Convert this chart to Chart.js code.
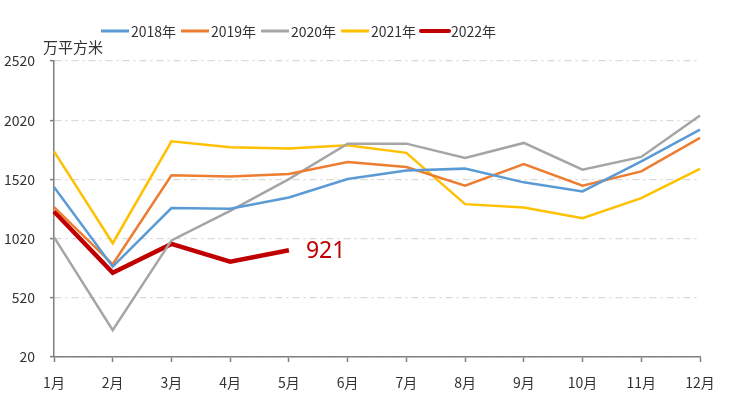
<!DOCTYPE html>
<html>
<head>
<meta charset="utf-8">
<script src="https://cdn.jsdelivr.net/npm/chart.js@4"></script>
<style>
  html, body { margin: 0; padding: 0; background: #fff; }
  #wrap { width: 732px; height: 398px; }
</style>
</head>
<body>
<div id="wrap"><canvas id="chart"></canvas></div>
<script>
// chart data
const months = ['1月', '2月', '3月', '4月', '5月', '6月', '7月', '8月', '9月', '10月', '11月', '12月'];
const s2018 = [1456, 783, 1278, 1272, 1367, 1523, 1596, 1611, 1495, 1418, 1673, 1941];
const s2019 = [1286, 803, 1554, 1545, 1566, 1667, 1625, 1467, 1650, 1467, 1588, 1871];
const s2020 = [1032, 246, 1005, 1255, 1523, 1822, 1822, 1701, 1828, 1602, 1710, 2060];
const s2021 = [1757, 981, 1842, 1791, 1780, 1808, 1744, 1311, 1283, 1193, 1362, 1608];
const s2022 = [1249, 732, 975, 825, 921];
const yTicks = [20, 520, 1020, 1520, 2020, 2520];
const unitLabel = '万平方米';
const lastLabel = '921';

const font = '"Noto Sans CJK SC", "Noto Sans", sans-serif';
const axisGray = '#7f7f7f';

// legend drawn by hand so it can sit left of centre like the original
const legendPlugin = {
    id: 'customLegend',
    afterDraw(chart) {
        const ctx = chart.ctx;
        ctx.save();
        ctx.font = '14px ' + font;
        ctx.textBaseline = 'middle';
        ctx.textAlign = 'left';
        chart.data.datasets.forEach((ds, i) => {
            const x = 101 + i * 80;
            const y = 31;
            ctx.strokeStyle = ds.borderColor;
            ctx.lineWidth = i === 4 ? 4 : 3;
            ctx.lineCap = i === 4 ? 'round' : 'butt';
            ctx.beginPath();
            ctx.moveTo(x, y);
            ctx.lineTo(x + 28, y);
            ctx.stroke();
            ctx.fillStyle = '#333';
            ctx.fillText(ds.label, x + 30, y + 1);
        });
        // unit label above the y axis
        ctx.font = '15px ' + font;
        ctx.fillStyle = '#333';
        ctx.fillText(unitLabel, 43, 47);
        ctx.restore();
    }
};

// value label next to the last 2022 point
const endLabelPlugin = {
    id: 'endLabel',
    afterDatasetsDraw(chart) {
        const meta = chart.getDatasetMeta(4);
        const pt = meta.data[meta.data.length - 1];
        const ctx = chart.ctx;
        ctx.save();
        ctx.font = '23px "Noto Sans", sans-serif';
        ctx.fillStyle = '#c00000';
        ctx.textBaseline = 'middle';
        ctx.fillText(lastLabel, pt.x + 17, pt.y + 1);
        ctx.restore();
    }
};

function series(label, data, color, width) {
    return {
        label: label,
        data: data,
        borderColor: color,
        backgroundColor: color,
        borderWidth: width,
        pointRadius: 0,
        pointHoverRadius: 0,
        tension: 0,
        fill: false
    };
}

new Chart(document.getElementById('chart'), {
    type: 'line',
    data: {
        labels: months,
        datasets: [
            series('2018年', s2018, '#5b9bd5', 2.5),
            series('2019年', s2019, '#ed7d31', 2.5),
            series('2020年', s2020, '#a5a5a5', 2.5),
            series('2021年', s2021, '#ffc000', 2.5),
            series('2022年', s2022, '#c00000', 4.5)
        ]
    },
    options: {
        responsive: true,
        maintainAspectRatio: false,
        animation: false,
        layout: {
            padding: { top: 61, right: 32, bottom: 0, left: 4 }
        },
        plugins: {
            legend: { display: false },
            tooltip: { enabled: false }
        },
        scales: {
            x: {
                offset: false,
                afterFit(scale) {
                    scale.height = 41;
                },
                grid: {
                    offset: false,
                    drawOnChartArea: false,
                    tickLength: 5,
                    tickColor: axisGray,
                    tickWidth: 1.5
                },
                border: { color: axisGray, width: 1.5 },
                ticks: {
                    color: '#333',
                    padding: 12,
                    maxRotation: 0,
                    autoSkip: false,
                    font: { family: font, size: 14 }
                }
            },
            y: {
                min: 20,
                max: 2520,
                afterBuildTicks(scale) {
                    scale.ticks = yTicks.map(v => ({ value: v }));
                },
                afterFit(scale) {
                    scale.width = 50;
                },
                grid: {
                    color: '#d9d9d9',
                    lineWidth: 1.25,
                    tickLength: 4,
                    tickColor: axisGray,
                    tickWidth: 1.5,
                    tickBorderDash: []
                },
                border: { color: axisGray, width: 1.5, dash: [7, 4, 2, 4] },
                ticks: {
                    color: '#333',
                    padding: 15,
                    font: { family: font, size: 14 },
                    callback: v => String(v)
                }
            }
        }
    },
    plugins: [legendPlugin, endLabelPlugin]
});
</script>
</body>
</html>
